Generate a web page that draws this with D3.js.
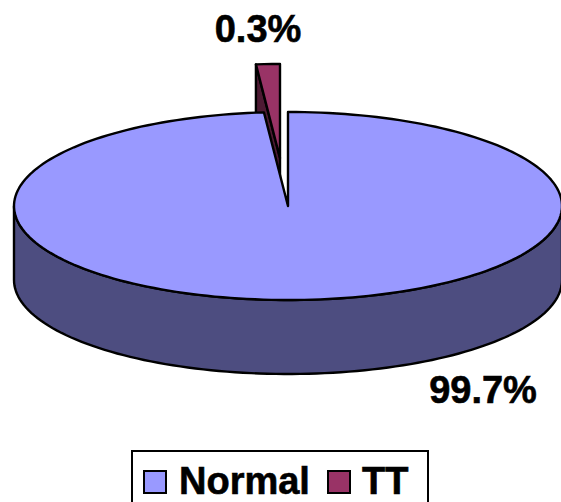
<!DOCTYPE html>
<html>
<head>
<meta charset="utf-8">
<script src="https://cdn.jsdelivr.net/npm/d3@7"></script>
<style>
  html, body { margin: 0; padding: 0; background: #fff; overflow: hidden; }
  text { font-family: "Liberation Sans", Arial, sans-serif; font-weight: bold; fill: #000; stroke: #000; stroke-width: 0.6px; }
</style>
</head>
<body>
<div id="chart"></div>
<script>
const categories = ['Normal', 'TT'];
const percentLabels = ['99.7%', '0.3%'];
const drawnShare = [98.6, 1.4];

const width = 561, height = 502;
const colors = ['#9999ff', '#993366'];
const sideColors = ['#4d4d80', '#4d1a33'];
const depth = 74;
const explode = {x: -8, y: -48};

const svg = d3.select('#chart').append('svg')
    .attr('width', width)
    .attr('height', height)
    .style('display', 'block');

// unit circle -> tilted ellipse
const px = d3.scaleLinear().domain([-1, 1]).range([14, 562]);
const py = d3.scaleLinear().domain([-1, 1]).range([112, 300]);

const slices = d3.pie().sort(null)(drawnShare);

function rimPoints(a0, a1, dx, dy) {
    const n = Math.max(2, Math.ceil((a1 - a0) / 0.03));
    return d3.range(n + 1).map(i => {
        const a = a0 + (a1 - a0) * i / n;
        return [px(Math.sin(a)) + dx, py(-Math.cos(a)) + dy];
    });
}

const line = d3.line();

function drawShape(points, fill) {
    svg.append('path')
        .attr('d', line(points) + 'Z')
        .attr('fill', fill)
        .attr('stroke', '#000')
        .attr('stroke-width', 2.4)
        .attr('stroke-linejoin', 'round');
}

// front wall of the big slice
const front = rimPoints(Math.PI / 2, Math.PI * 1.5, 0, 0);
drawShape(front.concat(front.slice().reverse().map(p => [p[0], p[1] + depth])), sideColors[0]);

// exploded slice: inner wall then top
const tt = slices[1];
const ttRim = rimPoints(tt.startAngle, tt.endAngle, explode.x, explode.y);
const ttApex = [px(0) + explode.x, py(0) + explode.y];
drawShape([ttRim[0], ttApex, [ttApex[0], ttApex[1] + depth], [ttRim[0][0], ttRim[0][1] + depth]], sideColors[1]);
drawShape(ttRim.concat([ttApex]), colors[1]);

// top of the big slice goes over the dark wall
const normal = slices[0];
drawShape(rimPoints(normal.startAngle, normal.endAngle, 0, 0).concat([[px(0), py(0)]]), colors[0]);

// data labels
svg.append('text').attr('x', 258).attr('y', 42)
    .attr('text-anchor', 'middle').attr('font-size', 38).text(percentLabels[1]);
svg.append('text').attr('x', 483).attr('y', 403)
    .attr('text-anchor', 'middle').attr('font-size', 38).text(percentLabels[0]);

// legend
svg.append('rect')
    .attr('x', 132).attr('y', 451).attr('width', 296).attr('height', 70)
    .attr('fill', '#fff').attr('stroke', '#000').attr('stroke-width', 2);

const legendSwatch = [144, 328];
const legendText = [179, 362];
categories.forEach((c, i) => {
    svg.append('rect')
        .attr('x', legendSwatch[i]).attr('y', 471).attr('width', 22).attr('height', 22)
        .attr('fill', colors[i]).attr('stroke', '#000').attr('stroke-width', 2);
    svg.append('text')
        .attr('x', legendText[i]).attr('y', 494)
        .attr('font-size', 38).text(c);
});
</script>
</body>
</html>
